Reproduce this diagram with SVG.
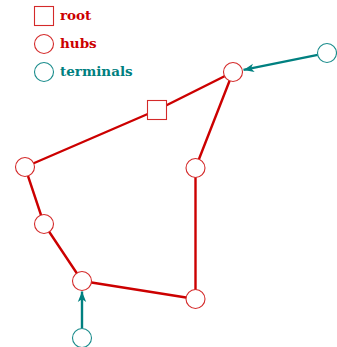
<svg xmlns="http://www.w3.org/2000/svg" width="337" height="347" viewBox="0 0 337 347">
<style>
.hub{fill:#fff;stroke:#d42a2a;stroke-width:1.1}
.term{fill:#fff;stroke:#1a8c8c;stroke-width:1.1}
.edge{stroke:#cc0000;stroke-width:2.4;fill:none;stroke-linecap:round}
.arr{stroke:#008080;stroke-width:2.4;fill:none}
.lbl{font-family:"DejaVu Serif",serif;font-weight:bold;font-size:13.5px}
</style>
<defs>
<marker id="ah" markerUnits="userSpaceOnUse" markerWidth="12" markerHeight="10" viewBox="0 0 12 10" refX="10.5" refY="5" orient="auto">
<path d="M0,0.8 L10.5,5 L0,9.2 L2.8,5 z" fill="#008080"/>
</marker>
</defs>
<g id="legend">
<rect x="34.5" y="6.5" width="19" height="19" class="hub"/>
<text x="60" y="20" class="lbl" fill="#cc0000">root</text>
<circle cx="44" cy="44" r="9.5" class="hub"/>
<text x="60" y="48" class="lbl" fill="#cc0000">hubs</text>
<circle cx="44" cy="72" r="9.5" class="term"/>
<text x="60" y="76" class="lbl" fill="#008080">terminals</text>
</g>
<g id="connectors">
<line class="edge" x1="157" y1="110" x2="233" y2="72"/>
<line class="edge" x1="157" y1="110" x2="25" y2="167"/>
<line class="edge" x1="25" y1="167" x2="44" y2="224"/>
<line class="edge" x1="44" y1="224" x2="82" y2="281"/>
<line class="edge" x1="82" y1="281" x2="195.5" y2="299"/>
<line class="edge" x1="195.5" y1="299" x2="195.5" y2="168"/>
<line class="edge" x1="195.5" y1="168" x2="233" y2="72"/>
<line class="arr" x1="317.7" y1="54.9" x2="243.5" y2="69.9" marker-end="url(#ah)"/>
<line class="arr" x1="82" y1="328" x2="82" y2="291.5" marker-end="url(#ah)"/>
</g>
<g id="root"><rect x="147.5" y="100.5" width="19" height="19" class="hub"/></g>
<g id="hub1"><circle cx="233" cy="72" r="9.5" class="hub"/></g>
<g id="hub2"><circle cx="25" cy="167" r="9.5" class="hub"/></g>
<g id="hub3"><circle cx="44" cy="224" r="9.5" class="hub"/></g>
<g id="hub4"><circle cx="82" cy="281" r="9.5" class="hub"/></g>
<g id="hub5"><circle cx="195.5" cy="299" r="9.5" class="hub"/></g>
<g id="hub6"><circle cx="195.5" cy="168" r="9.5" class="hub"/></g>
<g id="term1"><circle cx="327" cy="53" r="9.5" class="term"/></g>
<g id="term2"><circle cx="82" cy="338" r="9.5" class="term"/></g>
</svg>
